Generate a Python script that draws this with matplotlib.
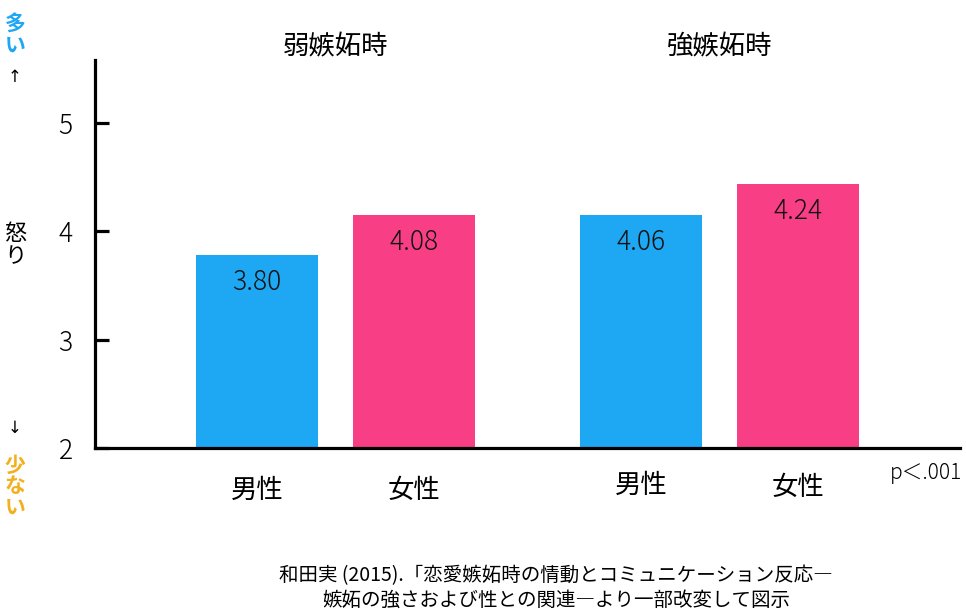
import matplotlib
matplotlib.use("Agg")
import matplotlib.pyplot as plt

plt.rcParams["font.family"] = ["Noto Sans CJK JP", "DejaVu Sans"]

# Data
groups = ["弱嫉妬時", "強嫉妬時"]
sexes = ["男性", "女性", "男性", "女性"]
bar_heights = [3.78, 4.15, 4.15, 4.44]   # heights as drawn in the picture
value_labels = ["3.80", "4.08", "4.06", "4.24"]
bar_colors = ["#1EA7F2", "#F83F86", "#1EA7F2", "#F83F86"]
positions = [0, 1, 2.446, 3.446]
yticks = [2, 3, 4, 5]

fig = plt.figure(figsize=(9.66, 6.09), dpi=100)
W, H = 966, 609
# axes in pixel coords: left 95, right 960, top 60, bottom 448
ax = fig.add_axes([95 / W, 1 - 448 / H, (960 - 95) / W, (448 - 60) / H])

bars = ax.bar(positions, [h - 2 for h in bar_heights], bottom=2, width=0.777,
              color=bar_colors, zorder=2)
for b, lab in zip(bars, value_labels):
    ax.annotate(lab, (b.get_x() + b.get_width() / 2, b.get_y() + b.get_height()),
                xytext=(0, -27), textcoords="offset pixels",
                ha="center", va="center", fontsize=19, color="#111111",
                fontweight="light")

ax.set_xlim(-1.032, 4.478)
ax.set_ylim(2, 5.58)
ax.set_yticks(yticks)
ax.set_yticklabels([str(t) for t in yticks], fontsize=19, fontweight="light")
ax.set_xticks([])
for s in ["top", "right"]:
    ax.spines[s].set_visible(False)
for s in ["left", "bottom"]:
    ax.spines[s].set_linewidth(2.3)
ax.tick_params(axis="y", direction="in", length=10, width=2.3, pad=16)

# category labels under bars
sex_y = [490, 490, 485, 487]
for p, s, yy in zip(positions, sexes, sex_y):
    ax.text(p, (448 - yy) / (448 - 60), s, transform=ax.get_xaxis_transform(),
            fontsize=19, ha="center", va="center")

# group titles
for i, g in enumerate(groups):
    cx = (positions[2 * i] + positions[2 * i + 1]) / 2
    ax.text(cx, (448 - 47) / (448 - 60), g, transform=ax.get_xaxis_transform(),
            fontsize=19, ha="center", va="center")

# left side annotations
fig.text(15 / W, 1 - 35 / H, "多\nい", fontsize=15, color="#1EA7F2",
         fontweight="bold", ha="center", va="center", linespacing=1.0)
fig.text(15 / W, 1 - 77 / H, "↑", fontsize=12, ha="center", va="center",
         family="DejaVu Sans")
fig.text(15 / W, 1 - 245 / H, "怒\nり", fontsize=16, ha="center", va="center",
         linespacing=1.0)
fig.text(15 / W, 1 - 428 / H, "↓", fontsize=12, ha="center", va="center",
         family="DejaVu Sans")
fig.text(15 / W, 1 - 486 / H, "少\nな\nい", fontsize=15, color="#F2B01E",
         fontweight="bold", ha="center", va="center", linespacing=1.0)

fig.text(962 / W, 1 - 473 / H, "p＜.001", fontsize=15, ha="right", va="center",
         fontweight="light")

fig.text(556 / W, 1 - 588 / H,
         "和田実 (2015).「恋愛嫉妬時の情動とコミュニケーション反応―\n"
         "嫉妬の強さおよび性との関連―より一部改変して図示",
         fontsize=14, ha="center", va="center", linespacing=1.2)

fig.savefig("out.png", dpi=100)
